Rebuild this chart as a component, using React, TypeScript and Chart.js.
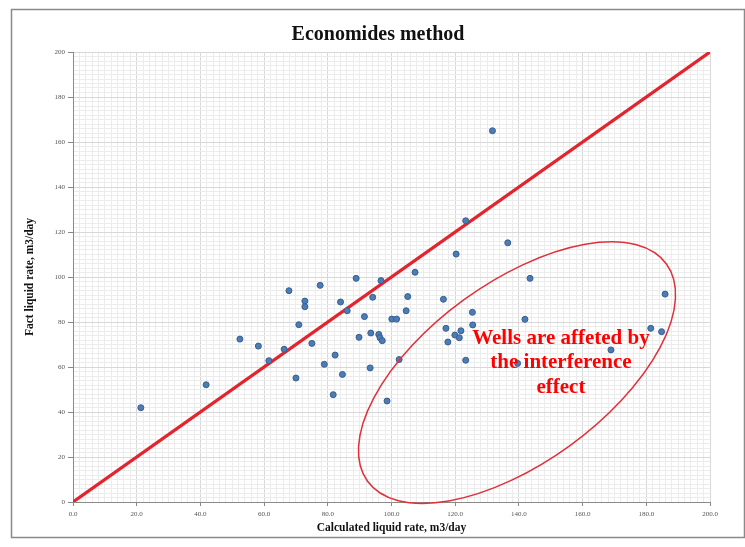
import React, { useEffect, useRef } from 'react';
import { Chart, registerables } from 'chart.js';

Chart.register(...registerables);

const calculatedRate = [
  21.3, 41.8, 52.4, 58.2, 61.5, 66.3, 67.8, 72.8, 72.8, 70.9, 75.0, 77.6, 78.9, 70.0,
  88.9, 96.7, 84.0, 86.1, 94.1, 107.4, 105.1, 104.6, 91.5, 100.1, 101.6, 89.8, 93.5,
  96.0, 96.4, 97.1, 82.3, 84.6, 93.3, 102.4, 81.7, 98.6, 116.3, 120.3, 117.1, 117.7,
  119.9, 121.3, 121.8, 131.7, 123.3, 136.5, 143.5, 125.4, 125.5, 141.9, 123.3, 139.6,
  185.9, 181.4, 184.8, 168.9,
];
const factRate = [
  41.9, 52.1, 72.4, 69.3, 62.8, 67.9, 93.9, 89.3, 86.8, 78.8, 70.5, 96.3, 61.2, 55.1,
  99.4, 98.4, 88.9, 85.0, 91.0, 102.1, 91.3, 85.0, 82.4, 81.3, 81.3, 73.2, 75.1,
  74.5, 73.0, 71.7, 65.3, 56.7, 59.6, 63.3, 47.7, 44.9, 90.1, 110.2, 77.2, 71.1,
  74.2, 73.0, 76.1, 165.0, 125.0, 115.2, 99.4, 84.3, 78.7, 81.2, 63.0, 61.6,
  92.4, 77.2, 75.7, 67.6,
];
const diagonalX = [0, 200];
const diagonalY = [0, 200];

const chartTitle = 'Economides method';
const xAxisTitle = 'Calculated liquid rate, m3/day';
const yAxisTitle = 'Fact liquid rate, m3/day';
const noteLines = ['Wells are affeted by', 'the interference', 'effect'];
const noteAnchor = { x: 153.2, y: 72.8 };
const ellipseCenter = { x: 139.4, y: 57.5 };
const ellipseSemiAxes = { major: 58, minor: 28.3 };
const ellipseAngleDeg = -36;

const SERIF = "'Liberation Serif', 'DejaVu Serif', serif";

export default function App() {
  const canvasRef = useRef<HTMLCanvasElement | null>(null);

  useEffect(() => {
    const canvas = canvasRef.current;
    if (!canvas) return;

    const overlay = {
      id: 'overlay',
      beforeDraw(chart: any) {
        const { ctx, width, height } = chart;
        ctx.save();
        ctx.fillStyle = '#ffffff';
        ctx.fillRect(0, 0, width, height);
        ctx.strokeStyle = '#8a8a8a';
        ctx.lineWidth = 1.5;
        ctx.strokeRect(11.5, 9.5, width - 12, height - 19);
        ctx.restore();
      },
      afterDatasetsDraw(chart: any) {
        const { ctx } = chart;
        const xs = chart.scales.x;
        const ys = chart.scales.y;
        const unit = xs.getPixelForValue(1) - xs.getPixelForValue(0);
        ctx.save();
        ctx.beginPath();
        ctx.ellipse(
          xs.getPixelForValue(ellipseCenter.x),
          ys.getPixelForValue(ellipseCenter.y),
          ellipseSemiAxes.major * unit,
          ellipseSemiAxes.minor * unit,
          (ellipseAngleDeg * Math.PI) / 180,
          0,
          Math.PI * 2
        );
        ctx.strokeStyle = '#e0303a';
        ctx.lineWidth = 1.5;
        ctx.stroke();

        ctx.fillStyle = '#ff0000';
        ctx.font = `bold 21px ${SERIF}`;
        ctx.textAlign = 'center';
        ctx.textBaseline = 'middle';
        const cx = xs.getPixelForValue(noteAnchor.x);
        const cy = ys.getPixelForValue(noteAnchor.y);
        noteLines.forEach((line, i) => ctx.fillText(line, cx, cy + i * 24.5));

        ctx.fillStyle = '#111111';
        ctx.font = `bold 20px ${SERIF}`;
        ctx.fillText(chartTitle, (chart.width + 11) / 2, 35);
        ctx.restore();
      },
    };

    const majorColor = (ctx: any) =>
      ctx.tick && Math.round(ctx.tick.value) % 20 === 0 ? '#d8d8d8' : '#ececec';
    const tickMarkColor = (ctx: any) =>
      ctx.tick && Math.round(ctx.tick.value) % 20 === 0 ? '#888888' : 'rgba(0,0,0,0)';

    const chart = new Chart(canvas, {
      type: 'scatter',
      data: {
        datasets: [
          {
            label: 'Wells',
            data: calculatedRate.map((x, i) => ({ x, y: factRate[i] })),
            backgroundColor: '#4a7cb8',
            borderColor: '#3a5f8c',
            borderWidth: 1,
            pointRadius: 3,
          },
          {
            label: 'Diagonal',
            data: diagonalX.map((x, i) => ({ x, y: diagonalY[i] })),
            showLine: true,
            borderColor: '#e3242d',
            borderWidth: 3.2,
            pointRadius: 0,
          },
        ],
      },
      options: {
        animation: false,
        responsive: false,
        maintainAspectRatio: false,
        layout: { padding: { left: 12, right: 35, top: 52, bottom: 0 } },
        plugins: {
          legend: { display: false },
          title: { display: false },
          tooltip: { enabled: false },
        },
        scales: {
          x: {
            type: 'linear',
            min: 0,
            max: 200,
            afterFit: (s: any) => {
              s.height = 45;
            },
            ticks: {
              stepSize: 2,
              autoSkip: false,
              maxRotation: 0,
              padding: 4,
              color: '#555555',
              font: { family: SERIF, size: 7 },
              callback: (v: any) => (Math.round(v) % 20 === 0 ? Number(v).toFixed(1) : ''),
            },
            grid: { color: majorColor, tickColor: tickMarkColor, tickLength: 4, lineWidth: 1 },
            border: { color: '#8a8a8a', width: 1 },
            title: {
              display: true,
              text: xAxisTitle,
              color: '#111111',
              font: { family: SERIF, size: 11.5, weight: 'bold' },
              padding: { top: 2, bottom: 12 },
            },
          },
          y: {
            type: 'linear',
            min: 0,
            max: 200,
            afterFit: (s: any) => {
              s.width = 61;
            },
            ticks: {
              stepSize: 2,
              autoSkip: false,
              padding: 3,
              color: '#555555',
              font: { family: SERIF, size: 7 },
              callback: (v: any) => (Math.round(v) % 20 === 0 ? String(Math.round(v)) : ''),
            },
            grid: { color: majorColor, tickColor: tickMarkColor, tickLength: 5, lineWidth: 1 },
            border: { color: '#8a8a8a', width: 1 },
            title: {
              display: true,
              text: yAxisTitle,
              color: '#111111',
              font: { family: SERIF, size: 11.5, weight: 'bold' },
              padding: { top: 11, bottom: 0 },
            },
          },
        },
      },
      plugins: [overlay],
    });

    return () => chart.destroy();
  }, []);

  return (
    <div style={{ position: 'fixed', left: 0, top: 0, width: 745, height: 547, background: '#fff' }}>
      <canvas ref={canvasRef} width={745} height={547} style={{ display: 'block' }} />
    </div>
  );
}
